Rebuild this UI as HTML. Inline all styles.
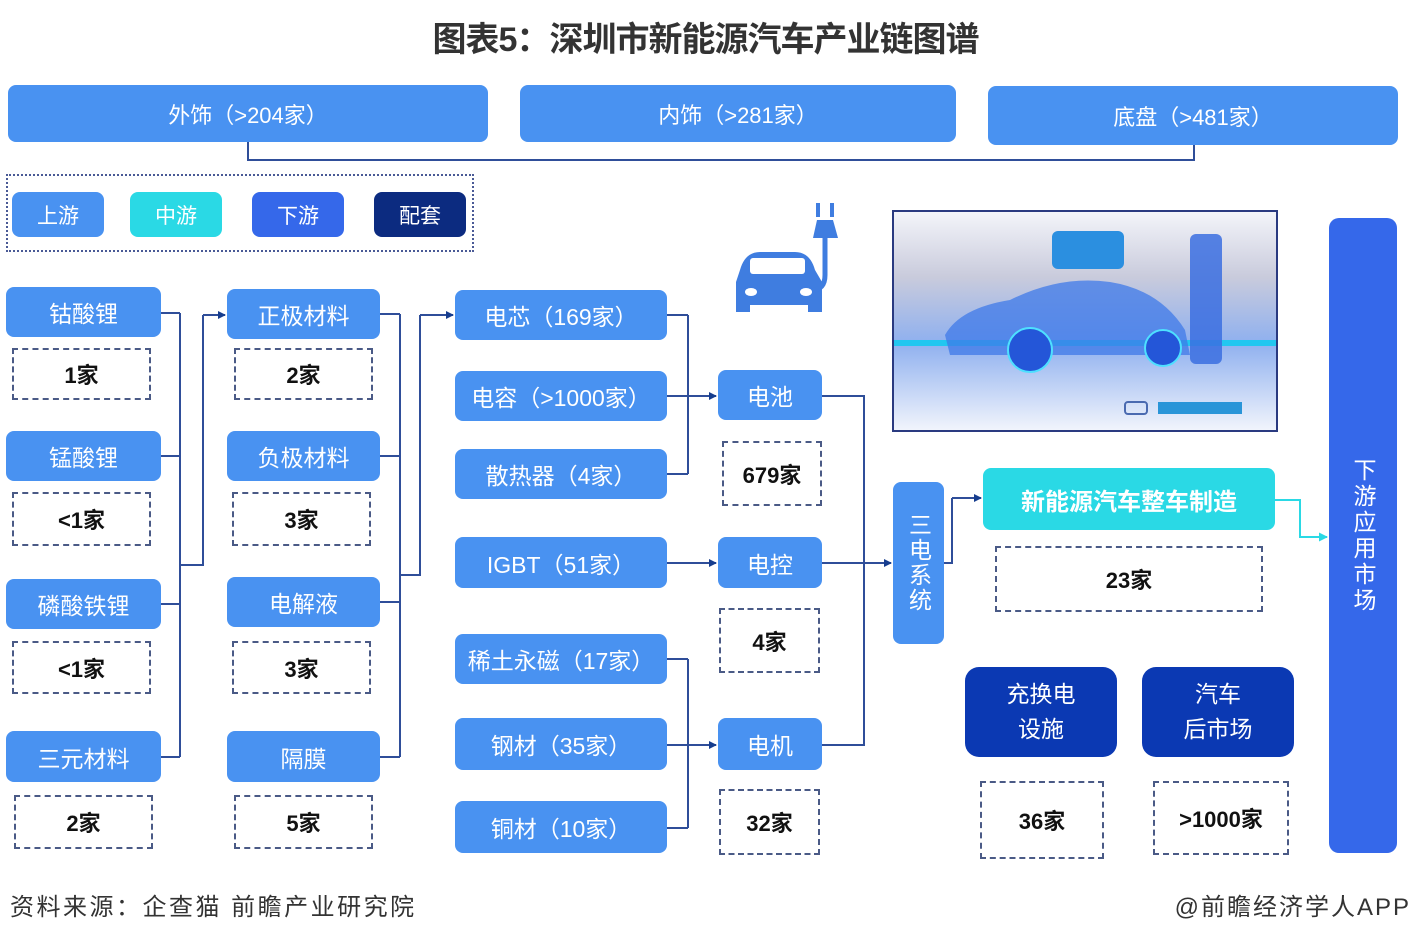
<!DOCTYPE html>
<html><head><meta charset="utf-8"><style>
*{margin:0;padding:0;box-sizing:border-box}
body{width:1411px;height:935px;background:#fff;position:relative;overflow:hidden;font-family:"Liberation Sans","Noto Sans CJK SC",sans-serif}
.b{position:absolute;background:#4992f1;color:#fff;border-radius:8px;display:flex;align-items:center;justify-content:center;font-size:23px;white-space:nowrap;text-align:center}
.c{position:absolute;border:2px dashed #4a5a86;display:flex;align-items:center;justify-content:center;font-size:22px;font-weight:bold;color:#111}
.cy{background:#2ad9e5}.mb{background:#3568ea}.nv{background:#0b39b3}.dk{background:#0c2b80}
svg{position:absolute;left:0;top:0}
</style></head><body>
<div style="position:absolute;left:0;width:1411px;top:12px;text-align:center;font-size:34px;font-weight:bold;color:#333;letter-spacing:-1px">图表5：深圳市新能源汽车产业链图谱</div>

<div class="b" style="left:8px;top:85px;width:480px;height:57px;font-size:22px">外饰（&gt;204家）</div>
<div class="b" style="left:520px;top:85px;width:436px;height:57px;font-size:22px">内饰（&gt;281家）</div>
<div class="b" style="left:988px;top:86px;width:410px;height:59px;font-size:22px">底盘（&gt;481家）</div>

<div style="position:absolute;left:6px;top:174px;width:468px;height:78px;border:2px dotted #4a5a96"></div>
<div class="b" style="left:12px;top:192px;width:92px;height:45px;font-size:21px">上游</div>
<div class="b cy" style="left:130px;top:192px;width:92px;height:45px;font-size:21px">中游</div>
<div class="b mb" style="left:252px;top:192px;width:92px;height:45px;font-size:21px">下游</div>
<div class="b dk" style="left:374px;top:192px;width:92px;height:45px;font-size:21px">配套</div>

<div class="b" style="left:6px;top:287px;width:155px;height:50px">钴酸锂</div>
<div class="c" style="left:12px;top:348px;width:139px;height:52px">1家</div>
<div class="b" style="left:6px;top:431px;width:155px;height:50px">锰酸锂</div>
<div class="c" style="left:12px;top:492px;width:139px;height:54px">&lt;1家</div>
<div class="b" style="left:6px;top:579px;width:155px;height:50px">磷酸铁锂</div>
<div class="c" style="left:12px;top:641px;width:139px;height:53px">&lt;1家</div>
<div class="b" style="left:6px;top:731px;width:155px;height:51px">三元材料</div>
<div class="c" style="left:14px;top:795px;width:139px;height:54px">2家</div>

<div class="b" style="left:227px;top:289px;width:153px;height:50px">正极材料</div>
<div class="c" style="left:234px;top:348px;width:139px;height:52px">2家</div>
<div class="b" style="left:227px;top:431px;width:153px;height:50px">负极材料</div>
<div class="c" style="left:232px;top:492px;width:139px;height:54px">3家</div>
<div class="b" style="left:227px;top:577px;width:153px;height:50px">电解液</div>
<div class="c" style="left:232px;top:641px;width:139px;height:53px">3家</div>
<div class="b" style="left:227px;top:731px;width:153px;height:51px">隔膜</div>
<div class="c" style="left:234px;top:795px;width:139px;height:54px">5家</div>

<div class="b" style="left:455px;top:290px;width:212px;height:50px">电芯（169家）</div>
<div class="b" style="left:455px;top:371px;width:212px;height:50px">电容（&gt;1000家）</div>
<div class="b" style="left:455px;top:449px;width:212px;height:50px">散热器（4家）</div>
<div class="b" style="left:455px;top:537px;width:212px;height:51px">IGBT（51家）</div>
<div class="b" style="left:455px;top:634px;width:212px;height:50px">稀土永磁（17家）</div>
<div class="b" style="left:455px;top:718px;width:212px;height:52px">钢材（35家）</div>
<div class="b" style="left:455px;top:801px;width:212px;height:52px">铜材（10家）</div>

<div class="b" style="left:718px;top:370px;width:104px;height:50px">电池</div>
<div class="c" style="left:722px;top:441px;width:100px;height:65px">679家</div>
<div class="b" style="left:718px;top:537px;width:104px;height:51px">电控</div>
<div class="c" style="left:719px;top:608px;width:101px;height:65px">4家</div>
<div class="b" style="left:718px;top:718px;width:104px;height:52px">电机</div>
<div class="c" style="left:719px;top:789px;width:101px;height:66px">32家</div>

<div class="b" style="left:893px;top:482px;width:51px;height:162px;writing-mode:vertical-rl;letter-spacing:2px">三电系统</div>
<div class="b cy" style="left:983px;top:468px;width:292px;height:62px;font-size:24px;font-weight:bold">新能源汽车整车制造</div>
<div class="c" style="left:995px;top:546px;width:268px;height:66px">23家</div>

<div class="b nv" style="left:965px;top:667px;width:152px;height:90px;line-height:35px;border-radius:14px"><div>充换电<br>设施</div></div>
<div class="b nv" style="left:1142px;top:667px;width:152px;height:90px;line-height:35px;border-radius:14px"><div>汽车<br>后市场</div></div>
<div class="c" style="left:980px;top:781px;width:124px;height:78px">36家</div>
<div class="c" style="left:1153px;top:781px;width:136px;height:74px">&gt;1000家</div>

<div class="b mb" style="left:1329px;top:218px;width:68px;height:635px;writing-mode:vertical-rl;font-size:23px;letter-spacing:3px;border-radius:10px">下游应用市场</div>

<svg width="1411" height="935" viewBox="0 0 1411 935">
<defs><marker id="a" markerWidth="8" markerHeight="8" refX="7" refY="4" orient="auto" markerUnits="userSpaceOnUse"><path d="M0,0L8,4L0,8z" fill="#163d8e"/></marker>
<marker id="ac" markerWidth="9" markerHeight="9" refX="8" refY="4.5" orient="auto" markerUnits="userSpaceOnUse"><path d="M0,0L9,4.5L0,9z" fill="#2ad9e5"/></marker>
<linearGradient id="g" x1="0" y1="0" x2="0" y2="1"><stop offset="0" stop-color="#f4f5fa"/><stop offset=".3" stop-color="#c9cbdc"/><stop offset=".6" stop-color="#8fb0ef"/><stop offset="1" stop-color="#f2f5fc"/></linearGradient></defs>
<g fill="none" stroke="#2f4e99" stroke-width="2">
<path d="M248,142V160H1194V145"/>
<path d="M161,313H180M161,456H180M161,604H180M161,757H180M180,313V757M180,565H203V315"/>
<path d="M203,315H225" marker-end="url(#a)"/>
<path d="M380,314H400M380,456H400M380,602H400M380,757H400M400,314V757M400,575H420V315"/>
<path d="M420,315H453" marker-end="url(#a)"/>
<path d="M667,315H688M667,474H688M688,315V474"/>
<path d="M667,396H716" marker-end="url(#a)"/>
<path d="M667,563H716" marker-end="url(#a)"/>
<path d="M667,659H688M667,828H688M688,659V828"/>
<path d="M667,745H716" marker-end="url(#a)"/>
<path d="M822,396H864V745H822"/>
<path d="M822,563H891" marker-end="url(#a)"/>
<path d="M944,563H952V498"/>
<path d="M952,498H981" marker-end="url(#a)"/>
</g>
<path d="M1275,500H1300V537H1327" fill="none" stroke="#2ad9e5" stroke-width="2" marker-end="url(#ac)"/>
<g fill="#3f7de0">
<path d="M740,270Q745,252 760,252H795Q810,252 815,270L822,282V312H808V305H750V312H736V282Z"/>
<rect x="750" y="258" width="55" height="16" fill="#fff" rx="3"/>
<ellipse cx="751" cy="292" rx="6" ry="4" fill="#fff"/><ellipse cx="806" cy="292" rx="6" ry="4" fill="#fff"/>
<path d="M813,238H838L833,220H817Z"/><rect x="816" y="203" width="4" height="14"/><rect x="830" y="203" width="4" height="14"/>
</g>
<path d="M825,238V275Q825,290 812,290" fill="none" stroke="#3f7de0" stroke-width="5"/>
<rect x="893" y="211" width="384" height="220" fill="url(#g)" stroke="#2a3a80" stroke-width="2"/>
<rect x="894" y="340" width="382" height="6" fill="#22c7f0"/>
<path d="M945,335Q960,308 1010,300Q1060,275 1110,282Q1160,290 1185,330L1190,355H950Z" fill="#3f7ae8" opacity=".75"/>
<circle cx="1030" cy="350" r="22" fill="#2456d8" stroke="#4ee0ff" stroke-width="2"/>
<circle cx="1163" cy="348" r="18" fill="#2456d8" stroke="#4ee0ff" stroke-width="2"/>
<rect x="1190" y="234" width="32" height="130" rx="6" fill="#3b6fe0" opacity=".85"/>
<rect x="1052" y="231" width="72" height="38" rx="6" fill="#2b8fe0"/>
<rect x="1158" y="402" width="84" height="12" fill="#2a95d8"/>
<rect x="1125" y="402" width="22" height="12" rx="3" fill="none" stroke="#4a6ab0" stroke-width="2"/>
</svg>

<div style="position:absolute;left:10px;top:887px;font-size:24px;color:#333;letter-spacing:2.5px">资料来源：企查猫 前瞻产业研究院</div>
<div style="position:absolute;right:0px;top:887px;font-size:24px;color:#333;letter-spacing:2px">@前瞻经济学人APP</div>
</body></html>
